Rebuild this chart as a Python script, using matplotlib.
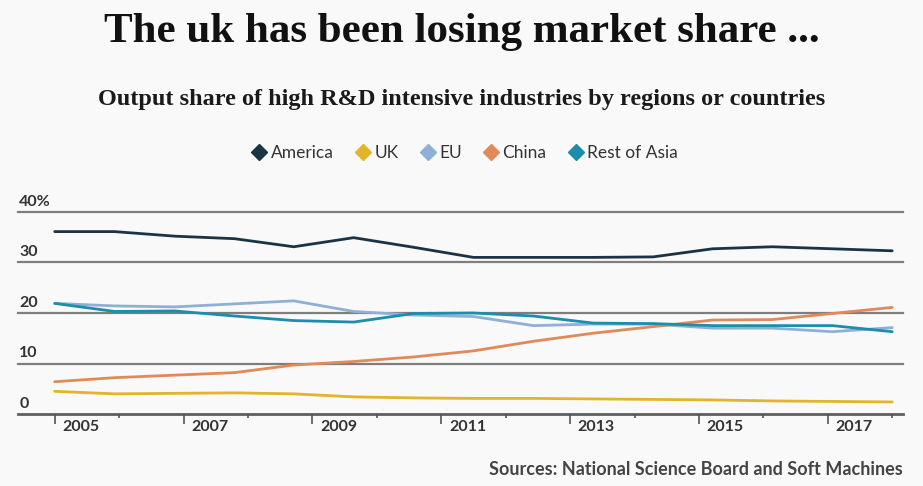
import matplotlib.pyplot as plt
from matplotlib.lines import Line2D

# 15 observations spread evenly between 2005 and 2018
years = [2005.0, 2005.93, 2006.86, 2007.79, 2008.71, 2009.64, 2010.57, 2011.5,
         2012.43, 2013.36, 2014.29, 2015.21, 2016.14, 2017.07, 2018.0]

america = [36.1, 36.1, 35.2, 34.7, 33.1, 34.9, 33.0, 31.0, 31.0, 31.0, 31.1, 32.7, 33.1, 32.7, 32.3]
uk = [4.5, 4.0, 4.1, 4.2, 4.0, 3.4, 3.2, 3.1, 3.1, 3.0, 2.9, 2.8, 2.6, 2.5, 2.4]
eu = [21.9, 21.4, 21.2, 21.8, 22.4, 20.3, 19.6, 19.3, 17.5, 17.8, 17.8, 17.0, 17.0, 16.3, 17.1]
china = [6.4, 7.2, 7.7, 8.2, 9.7, 10.4, 11.3, 12.5, 14.4, 16.0, 17.3, 18.6, 18.7, 19.9, 21.1]
rest_of_asia = [21.9, 20.3, 20.4, 19.4, 18.5, 18.2, 19.9, 20.0, 19.4, 18.0, 17.9, 17.5, 17.5, 17.5, 16.3]

series = {
    "America": (america, "#1b3445"),
    "UK": (uk, "#e2b42a"),
    "EU": (eu, "#8fb0d6"),
    "China": (china, "#e0895a"),
    "Rest of Asia": (rest_of_asia, "#1c8dab"),
}

y_ticks = [0, 10, 20, 30, 40]
y_labels = ["0", "10", "20", "30", "40%"]
x_major = [2005, 2007, 2009, 2011, 2013, 2015, 2017]
x_minor = [2006, 2008, 2010, 2012, 2014, 2016, 2018]

BG = "#f9f9f9"
SANS = ["Lato", "DejaVu Sans"]
SERIF = ["Liberation Serif", "DejaVu Serif"]

fig = plt.figure(figsize=(9.23, 4.86), dpi=100)
fig.patch.set_facecolor(BG)
ax = fig.add_axes([0.0195, 0.148, 0.959, 0.416])
ax.set_facecolor(BG)

for v in y_ticks:
    if v == 0:
        ax.axhline(v, color="#5f5f5f", lw=2.0, zorder=1, clip_on=False)
    else:
        ax.axhline(v, color="#7e7e7e", lw=1.6, zorder=1, clip_on=False)

for name, (vals, col) in series.items():
    ax.plot(years, vals, color=col, lw=2.0, solid_capstyle="round", zorder=3, clip_on=False)

ax.set_xlim(2004.43, 2018.17)
ax.set_ylim(0, 40)
for s in ax.spines.values():
    s.set_visible(False)
ax.set_yticks([])
ax.set_xticks(x_major)
ax.set_xticks(x_minor, minor=True)
ax.set_xticklabels([])
ax.tick_params(axis="x", which="major", length=7, width=1.2, color="#555555", direction="out")
ax.tick_params(axis="x", which="minor", length=3, width=1.2, color="#555555", direction="out")

for yr in x_major:
    ax.text(yr + 0.12, -1.2, str(yr), ha="left", va="top", fontsize=11.5,
            color="#333333", family=SANS, fontweight="bold")

for v, lab in zip(y_ticks, y_labels):
    ax.text(2004.45, v + 0.6, lab, ha="left", va="bottom", fontsize=11.5,
            color="#333333", family=SANS, fontweight="bold")

fig.text(0.5, 0.935, "The uk has been losing market share ...", ha="center", va="center",
         fontsize=31, fontweight="bold", family=SERIF, color="#111111")
fig.text(0.5, 0.795, "Output share of high R&D intensive industries by regions or countries",
         ha="center", va="center", fontsize=17.5, fontweight="bold", family=SERIF, color="#1a1a1a")

handles = [Line2D([], [], marker="D", linestyle="none", markersize=8, color=col,
                  markeredgecolor=col) for vals, col in series.values()]
leg = fig.legend(handles, list(series.keys()), loc="center", bbox_to_anchor=(0.503, 0.685),
                 ncol=5, frameon=False, handletextpad=0.15, columnspacing=1.2,
                 handlelength=1.0, prop={"family": SANS, "size": 12.5})
for t in leg.get_texts():
    t.set_color("#333333")

fig.text(0.978, 0.017, "Sources: National Science Board and Soft Machines", ha="right", va="bottom",
         fontsize=13, family=SANS, color="#444444", fontweight="bold")

fig.savefig("out.png", dpi=100, facecolor=BG)
